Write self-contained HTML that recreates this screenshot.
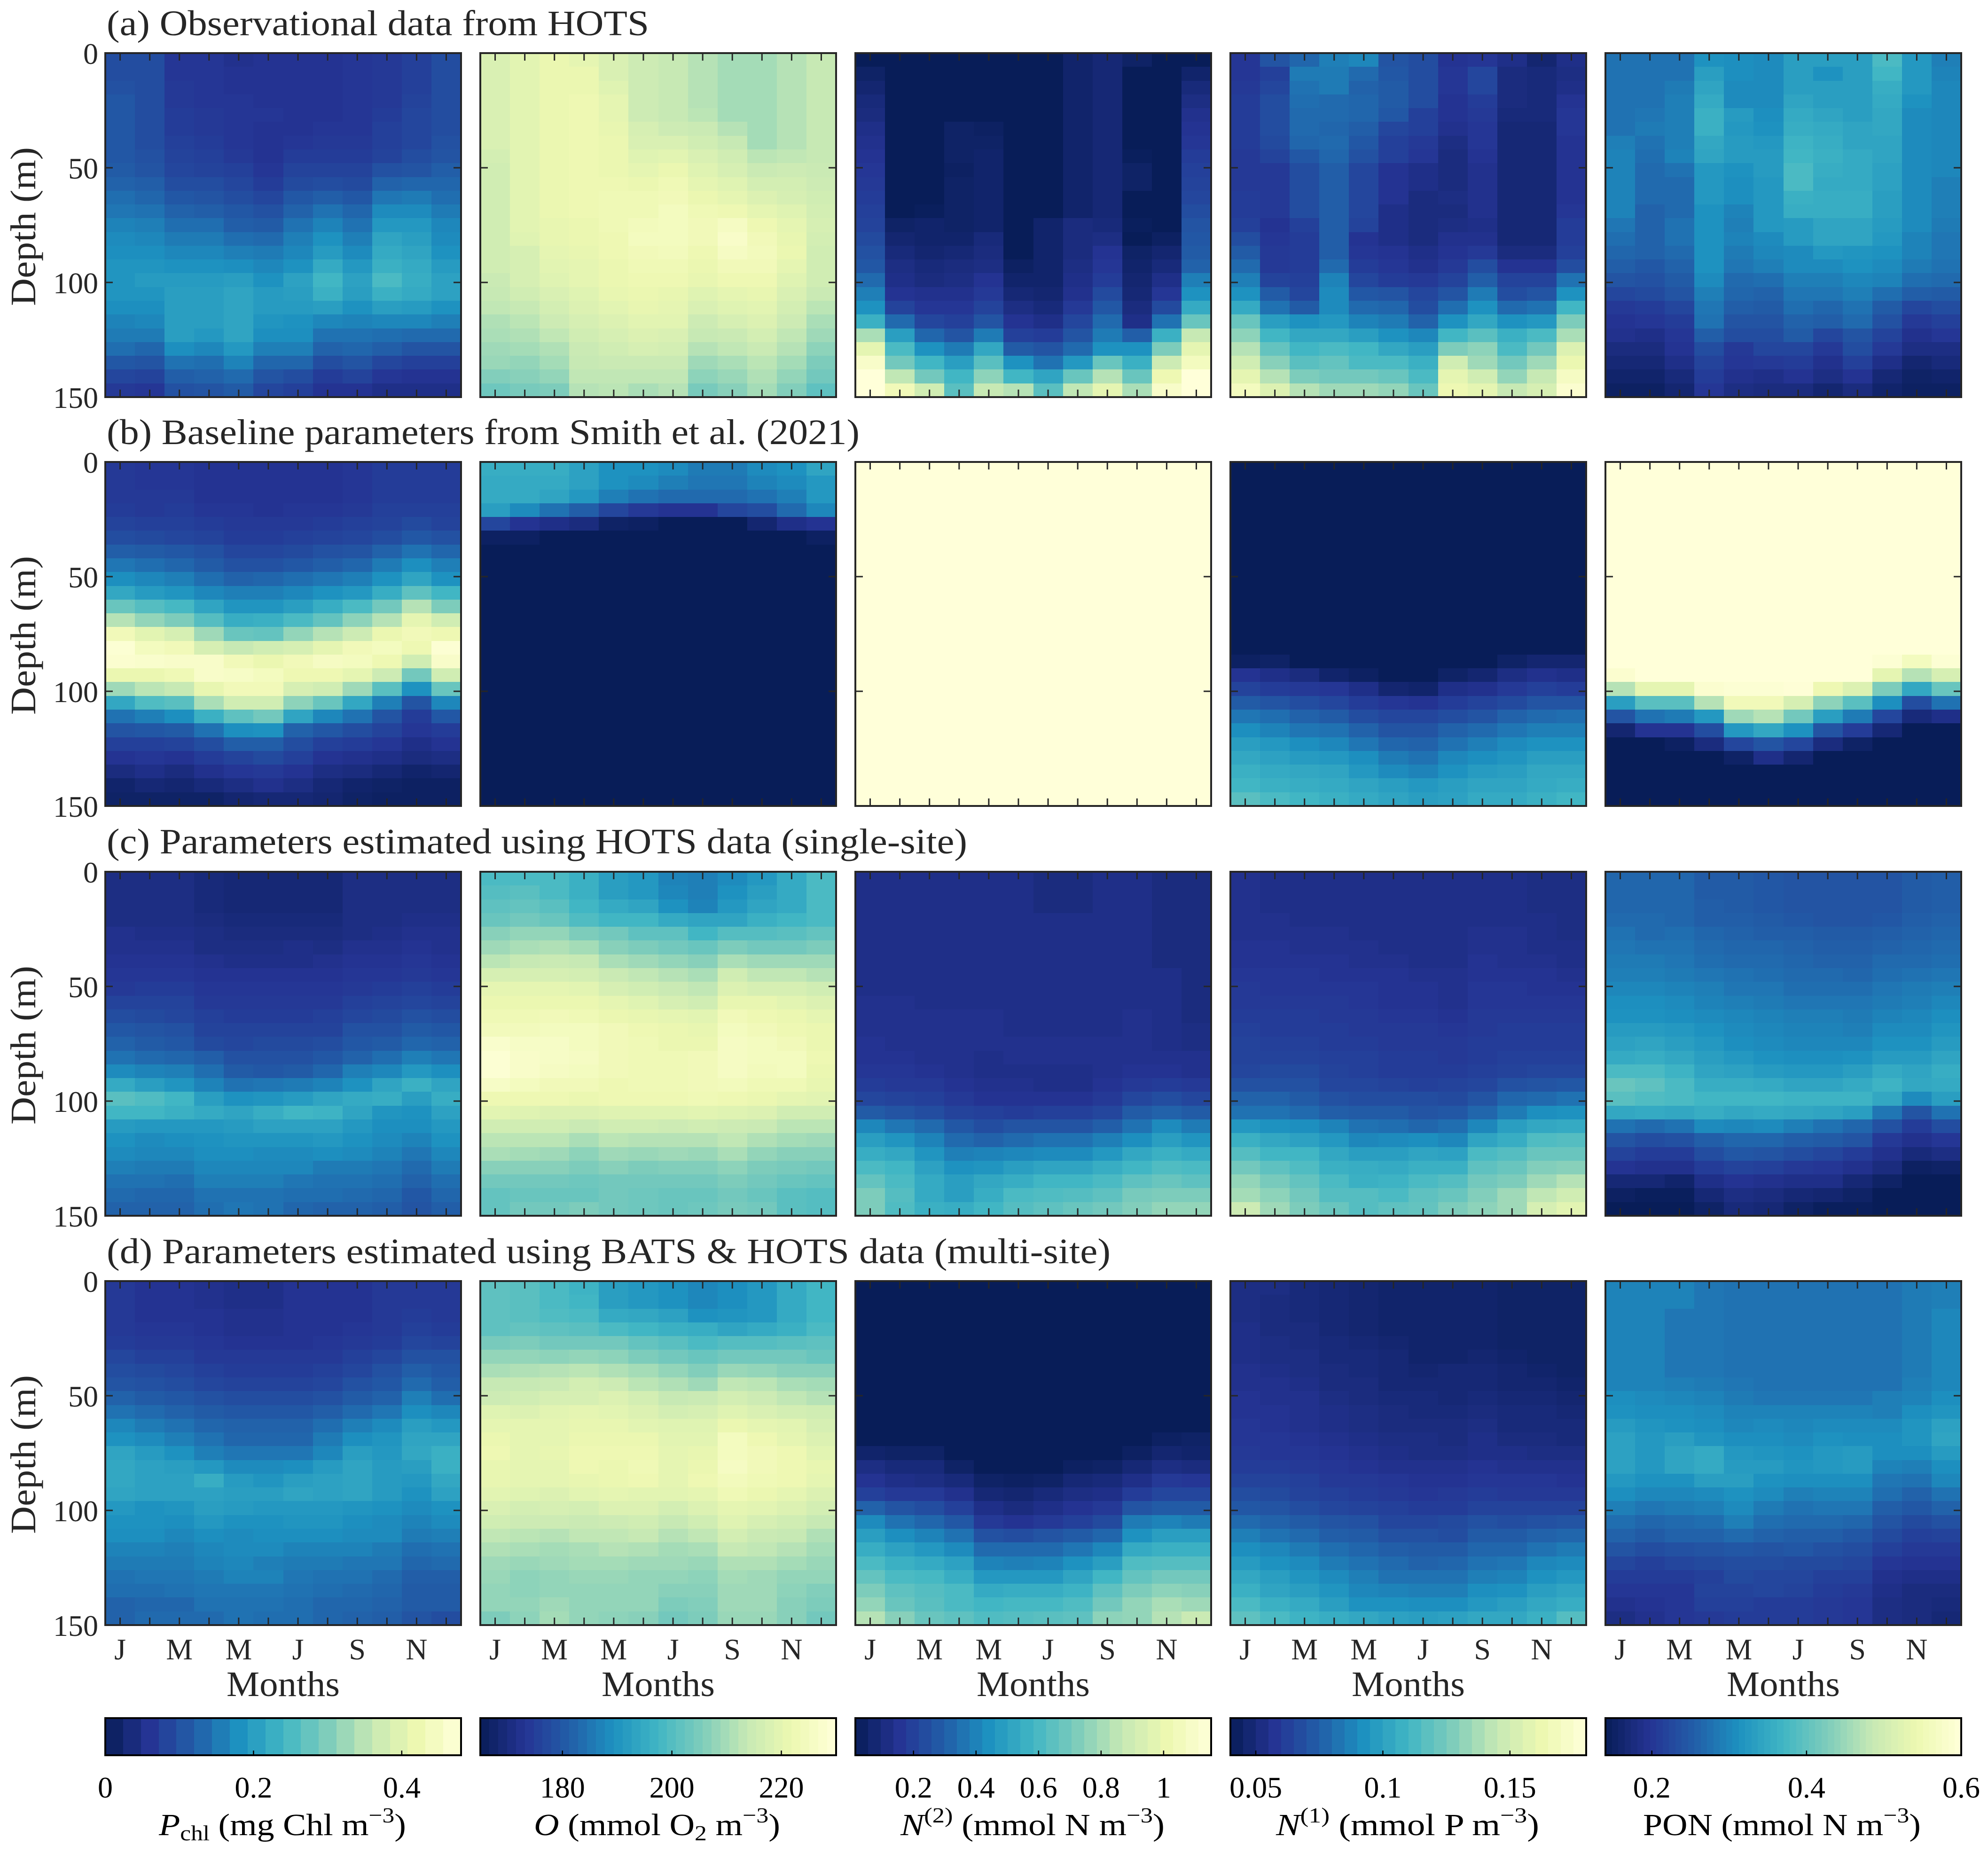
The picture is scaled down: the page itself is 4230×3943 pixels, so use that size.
<!DOCTYPE html>
<html lang="en">
<head>
<meta charset="utf-8">
<title>HOTS depth-month heatmaps</title>
<style>
html,body{margin:0;padding:0;background:#fff;}
svg{display:block;}
text{font-family:"Liberation Serif","Noto Serif CJK SC",serif;fill:#262626;}
.cbt{fill:#000;}
</style>
</head>
<body>
<svg id="chart" xmlns="http://www.w3.org/2000/svg" width="4230" height="3943" viewBox="0 0 4230 3943">
<rect x="0" y="0" width="4230" height="3943" fill="#fff"/>
<text x="227" y="75" font-size="76" textLength="1154" lengthAdjust="spacingAndGlyphs">(a) Observational data from HOTS</text>
<text x="227" y="945" font-size="76" textLength="1602" lengthAdjust="spacingAndGlyphs">(b) Baseline parameters from Smith et al. (2021)</text>
<text x="227" y="1816" font-size="76" textLength="1831" lengthAdjust="spacingAndGlyphs">(c) Parameters estimated using HOTS data (single-site)</text>
<text x="227" y="2688" font-size="76" textLength="2136" lengthAdjust="spacingAndGlyphs">(d) Parameters estimated using BATS &amp; HOTS data (multi-site)</text>
<g id="panels"></g>
<g id="colorbars"></g>
<text class="cbt" data-fit="337,527" x="0" y="3905" font-size="66"><tspan font-style="italic">P</tspan><tspan font-size="46" dy="11">chl</tspan><tspan dy="-11"> (mg Chl m</tspan><tspan font-size="46" dy="-27">−3</tspan><tspan dy="27">)</tspan></text>
<text class="cbt" data-fit="1136,524" x="0" y="3905" font-size="66"><tspan font-style="italic">O</tspan><tspan> (mmol O</tspan><tspan font-size="46" dy="11">2</tspan><tspan dy="-11"> m</tspan><tspan font-size="46" dy="-27">−3</tspan><tspan dy="27">)</tspan></text>
<text class="cbt" data-fit="1915,563" x="0" y="3905" font-size="66"><tspan font-style="italic">N</tspan><tspan font-size="46" dy="-27">(2)</tspan><tspan dy="27"> (mmol N m</tspan><tspan font-size="46" dy="-27">−3</tspan><tspan dy="27">)</tspan></text>
<text class="cbt" data-fit="2714,561" x="0" y="3905" font-size="66"><tspan font-style="italic">N</tspan><tspan font-size="46" dy="-27">(1)</tspan><tspan dy="27"> (mmol P m</tspan><tspan font-size="46" dy="-27">−3</tspan><tspan dy="27">)</tspan></text>
<text class="cbt" data-fit="3496,591" x="0" y="3905" font-size="66"><tspan>PON (mmol N m</tspan><tspan font-size="46" dy="-27">−3</tspan><tspan dy="27">)</tspan></text>
</svg>
<script>
// Each panel: 12 month columns; each column is a depth profile, top to bottom.
// Values are percent positions along that variable's colorbar range.
const monthTicks = ['J','M','M','J','S','N'];
const depthTicks = [0,50,100,150];
const cbMin = [0,165,0.014,0.04,0.14];
const cbMax = [0.48,230,1.152,0.18,0.6];
const cbTicks = [[0,0.2,0.4],[180,200,220],[0.2,0.4,0.6,0.8,1],[0.05,0.1,0.15],[0.2,0.4,0.6]];
const cbLevels = [20,40,28,28,56];

const a1 = [
[20,20,21,23,23,23,23,23,24,26,29,31,34,36,37,39,39,39,37,34,32,29,23,18,14],
[20,20,20,20,20,20,20,21,22,25,27,30,33,35,37,39,41,39,37,35,32,27,22,17,13],
[13,13,14,14,15,15,16,17,18,20,23,26,29,32,35,38,41,42,42,42,42,37,30,25,21],
[13,13,13,13,14,14,15,16,17,20,22,25,29,32,35,38,41,42,42,42,40,35,29,26,22],
[11,12,12,13,13,13,13,14,16,18,20,23,25,29,33,37,42,44,44,44,44,40,34,28,24],
[12,12,12,12,13,12,12,12,13,15,18,21,24,28,32,35,38,41,41,39,37,33,27,22,18],
[12,12,12,12,12,12,13,15,17,19,23,26,30,33,35,38,43,42,41,38,37,33,27,20,16],
[12,12,12,12,12,13,14,15,17,20,25,30,34,38,41,46,50,48,42,35,30,26,20,15,12],
[13,13,13,13,13,13,14,15,17,19,23,27,30,33,36,40,43,42,38,34,30,27,22,17,12],
[14,14,14,14,15,16,16,17,21,26,31,36,40,44,46,48,52,48,42,35,29,25,18,13,10],
[16,16,16,17,18,18,18,20,22,27,32,36,40,42,44,46,47,46,41,35,28,22,16,12,10],
[20,20,20,20,20,20,21,22,25,27,29,32,35,36,38,41,43,43,38,33,28,22,16,12,10]];
const a2 = [
[81,81,81,81,81,81,81,79,78,78,78,78,78,78,78,78,76,75,74,71,70,68,67,63,59],
[84,84,84,84,84,84,84,84,84,84,84,84,84,83,80,80,80,78,75,73,71,69,66,64,61],
[87,87,87,87,87,87,87,87,87,87,87,87,86,86,85,84,83,81,79,77,74,71,69,66,62],
[85,87,87,88,88,88,88,88,88,88,88,88,87,87,86,85,85,83,82,80,78,76,75,74,72],
[81,81,83,85,85,86,87,87,87,88,89,89,89,88,88,87,87,86,84,82,80,78,76,74,73],
[77,77,77,77,77,80,81,83,85,87,89,89,91,92,90,89,88,87,86,84,82,80,76,74,70],
[75,75,75,75,75,77,81,84,87,89,90,92,92,92,91,89,88,86,85,84,81,79,76,74,72],
[72,72,72,72,73,76,78,81,83,85,87,89,90,90,88,87,86,83,81,77,75,72,68,65,61],
[69,69,69,69,69,72,75,78,80,83,85,88,93,95,93,90,88,85,83,80,76,74,70,67,64],
[69,69,69,69,69,69,69,73,76,79,82,85,88,90,91,90,88,86,84,82,79,76,73,71,69],
[72,72,72,72,72,72,72,74,77,79,80,83,85,86,87,85,83,81,79,77,74,72,69,66,63],
[75,75,75,75,75,75,75,75,76,77,78,79,80,79,78,78,78,76,73,70,68,65,62,60,56]];
const a3 = [
[0,3,5,7,8,10,11,12,13,14,15,16,17,19,21,23,28,33,38,48,70,85,95,100,100],
[0,0,0,0,0,0,0,0,0,0,0,0,3,5,7,9,10,12,17,28,42,52,60,74,90],
[0,0,0,0,0,0,0,0,0,0,0,1,4,4,5,7,8,11,13,18,27,38,50,60,78],
[0,0,0,0,0,3,3,3,2,3,3,3,3,4,6,8,9,11,13,16,22,32,42,50,55],
[0,0,0,0,0,2,3,4,4,4,4,4,4,7,8,9,12,14,17,22,32,45,55,65,75],
[0,0,0,0,0,0,0,0,0,0,0,0,0,0,0,2,4,6,9,12,16,24,38,50,72],
[0,0,0,0,0,0,0,0,0,0,0,0,4,4,4,4,4,5,7,10,15,22,30,44,55],
[4,4,4,4,4,4,4,4,4,4,4,4,8,8,8,9,10,11,14,18,22,28,40,58,74],
[6,6,6,6,6,6,6,6,6,6,6,6,7,9,12,13,15,19,23,28,32,38,58,72,85],
[3,0,0,0,0,0,0,1,3,3,0,0,1,0,3,4,5,6,8,10,25,38,48,58,70],
[0,0,0,0,0,0,0,0,0,0,0,0,0,2,5,7,10,13,19,30,48,62,77,88,95],
[0,4,7,9,11,12,13,15,16,17,18,20,22,23,24,26,33,38,46,58,75,85,92,100,100]];
const a4 = [
[13,13,14,15,15,15,15,14,14,14,15,15,16,20,24,28,33,38,46,58,65,72,78,85,92],
[22,16,18,20,20,20,19,17,14,14,14,14,12,13,14,14,17,24,30,42,50,57,64,72,82],
[27,32,30,29,28,28,27,23,20,20,20,20,16,15,15,15,16,18,24,38,45,50,55,62,72],
[33,32,32,28,28,27,28,27,25,25,25,25,25,25,25,28,34,36,36,40,45,52,57,60,68],
[35,28,26,27,27,25,23,21,18,18,18,18,17,12,13,15,18,23,28,34,42,50,52,60,68],
[22,23,24,24,23,18,16,16,12,12,12,10,10,10,12,13,15,22,27,32,38,45,52,58,66],
[20,20,20,20,16,16,14,13,10,10,8,8,8,8,10,11,14,18,20,26,35,42,48,52,58],
[12,13,13,12,12,11,9,8,8,8,9,8,9,11,12,14,17,22,29,38,50,62,78,85,88],
[13,18,18,15,14,13,13,12,11,11,11,11,10,11,14,20,25,32,38,45,55,65,68,78,85],
[10,8,8,8,7,6,6,6,6,6,6,6,6,6,8,12,17,20,28,38,48,52,60,66,75],
[5,7,7,7,7,6,6,6,6,6,6,6,6,6,8,12,17,22,30,40,52,60,68,75,80],
[10,9,10,12,13,13,12,12,12,12,12,13,15,15,16,20,30,38,50,62,70,82,87,93,97]];
const a5 = [
[30,30,30,30,30,30,33,34,34,34,34,34,31,29,27,25,22,18,14,12,11,8,6,4,2],
[30,30,30,30,31,32,30,29,28,28,28,26,26,26,26,23,21,19,15,13,10,8,6,4,2],
[30,30,32,33,33,33,33,34,30,28,28,28,30,30,28,26,24,22,18,15,13,12,10,7,5],
[38,42,44,46,48,48,45,44,40,40,40,38,38,38,38,38,36,33,31,30,25,20,17,15,13],
[37,37,36,36,41,40,41,41,38,37,37,34,33,34,32,31,28,27,25,22,20,14,13,11,9],
[36,36,36,36,37,38,40,41,41,40,40,40,40,36,35,33,29,26,24,22,20,18,14,10,8],
[42,42,42,44,46,47,49,50,52,52,48,47,41,41,36,36,33,31,29,26,24,18,15,12,8],
[42,38,42,42,44,46,47,48,47,46,47,47,44,44,40,36,33,31,27,25,18,14,11,9,5],
[42,42,42,42,42,44,44,46,46,46,47,47,44,44,39,38,35,33,30,28,22,20,16,12,8],
[52,50,47,46,45,45,44,44,43,43,42,42,41,40,38,36,34,29,24,21,17,14,10,6,4],
[40,40,40,38,36,36,36,36,36,36,36,36,36,34,34,32,29,25,18,14,11,9,5,3,2],
[33,34,35,35,35,35,35,35,35,33,33,33,32,31,31,30,28,24,20,16,13,9,7,4,2]];

const b1 = [
[14,14,14,15,17,20,25,31,37,45,58,72,90,98,97,87,68,45,30,22,16,12,8,4,3],
[13,13,14,14,16,19,24,29,35,41,54,66,84,92,96,87,73,53,33,23,16,13,10,6,3],
[13,13,14,15,16,18,23,27,33,39,51,62,80,90,95,89,75,55,37,24,17,12,8,5,3],
[12,12,12,13,15,17,21,24,29,35,44,54,68,80,95,95,86,70,48,30,20,15,11,7,3],
[12,12,12,13,14,15,18,21,26,33,39,47,58,75,90,94,90,78,56,37,25,17,13,9,5],
[12,12,12,12,14,15,18,21,27,33,39,48,57,78,87,92,90,78,60,38,25,19,14,11,6],
[12,12,12,13,14,16,19,23,29,35,42,52,66,80,90,88,80,65,44,26,20,16,12,9,6],
[12,12,12,13,15,17,21,25,31,38,47,57,72,85,93,88,78,58,35,23,16,12,9,6,5],
[13,13,13,14,16,18,22,27,33,40,52,65,77,90,92,85,68,45,30,20,15,11,8,4,3],
[15,15,15,16,17,20,26,32,38,47,60,72,87,92,88,77,55,33,22,17,13,10,6,3,2],
[15,15,15,16,19,23,30,37,44,56,72,85,90,88,78,60,38,22,15,13,10,8,4,2,2],
[15,15,15,16,17,21,27,33,38,50,62,78,88,98,95,78,58,35,23,15,12,9,5,2,2]];
const b2 = [
[47,46,46,42,18,2,0,0,0,0,0,0,0,0,0,0,0,0,0,0,0,0,0,0,0],
[47,46,46,36,12,2,0,0,0,0,0,0,0,0,0,0,0,0,0,0,0,0,0,0,0],
[47,46,44,30,10,0,0,0,0,0,0,0,0,0,0,0,0,0,0,0,0,0,0,0,0],
[43,43,40,25,8,0,0,0,0,0,0,0,0,0,0,0,0,0,0,0,0,0,0,0,0],
[38,38,33,18,3,0,0,0,0,0,0,0,0,0,0,0,0,0,0,0,0,0,0,0,0],
[38,36,30,14,2,0,0,0,0,0,0,0,0,0,0,0,0,0,0,0,0,0,0,0,0],
[36,33,28,12,0,0,0,0,0,0,0,0,0,0,0,0,0,0,0,0,0,0,0,0,0],
[32,31,28,12,0,0,0,0,0,0,0,0,0,0,0,0,0,0,0,0,0,0,0,0,0],
[32,31,28,18,0,0,0,0,0,0,0,0,0,0,0,0,0,0,0,0,0,0,0,0,0],
[36,34,30,20,5,0,0,0,0,0,0,0,0,0,0,0,0,0,0,0,0,0,0,0,0],
[38,36,33,28,10,0,0,0,0,0,0,0,0,0,0,0,0,0,0,0,0,0,0,0,0],
[44,40,40,35,12,2,0,0,0,0,0,0,0,0,0,0,0,0,0,0,0,0,0,0,0]];
const b3 = [[100],[100],[100],[100],[100],[100],[100],[100],[100],[100],[100],[100]];
const b4 = [
[0,0,0,0,0,0,0,0,0,0,0,0,0,0,2,12,17,24,31,37,42,45,48,50,55],
[0,0,0,0,0,0,0,0,0,0,0,0,0,0,3,10,15,22,29,34,40,43,46,48,52],
[0,0,0,0,0,0,0,0,0,0,0,0,0,0,0,8,14,20,26,31,37,41,45,47,50],
[0,0,0,0,0,0,0,0,0,0,0,0,0,0,0,4,13,18,24,30,35,40,44,46,48],
[0,0,0,0,0,0,0,0,0,0,0,0,0,0,0,2,10,15,20,26,31,37,40,44,46],
[0,0,0,0,0,0,0,0,0,0,0,0,0,0,0,0,5,13,18,22,27,32,36,42,44],
[0,0,0,0,0,0,0,0,0,0,0,0,0,0,0,0,4,12,18,22,26,30,34,40,42],
[0,0,0,0,0,0,0,0,0,0,0,0,0,0,0,3,10,15,20,26,30,35,38,42,43],
[0,0,0,0,0,0,0,0,0,0,0,0,0,0,0,5,11,17,22,28,33,37,41,44,46],
[0,0,0,0,0,0,0,0,0,0,0,0,0,0,3,9,14,19,26,31,36,39,42,44,46],
[0,0,0,0,0,0,0,0,0,0,0,0,0,0,5,11,16,22,28,33,38,42,45,46,48],
[0,0,0,0,0,0,0,0,0,0,0,0,0,0,5,10,15,22,29,33,38,42,45,47,50]];
const b5 = [
[100,100,100,100,100,100,100,100,100,100,100,100,100,100,100,97,72,42,22,5,0,0,0,0,0],
[100,100,100,100,100,100,100,100,100,100,100,100,100,100,100,100,85,55,30,12,0,0,0,0,0],
[100,100,100,100,100,100,100,100,100,100,100,100,100,100,100,100,85,55,32,12,2,0,0,0,0],
[100,100,100,100,100,100,100,100,100,100,100,100,100,100,100,100,97,72,40,20,8,0,0,0,0],
[100,100,100,100,100,100,100,100,100,100,100,100,100,100,100,100,98,90,68,40,18,3,0,0,0],
[100,100,100,100,100,100,100,100,100,100,100,100,100,100,100,100,98,90,72,45,22,10,0,0,0],
[100,100,100,100,100,100,100,100,100,100,100,100,100,100,100,100,99,80,60,38,18,5,0,0,0],
[100,100,100,100,100,100,100,100,100,100,100,100,100,100,100,100,88,65,42,22,8,0,0,0,0],
[100,100,100,100,100,100,100,100,100,100,100,100,100,100,100,100,82,55,32,15,3,0,0,0,0],
[100,100,100,100,100,100,100,100,100,100,100,100,100,100,98,85,62,37,18,6,0,0,0,0,0],
[100,100,100,100,100,100,100,100,100,100,100,100,100,100,92,72,45,20,7,0,0,0,0,0,0],
[100,100,100,100,100,100,100,100,100,100,100,100,100,100,98,80,58,30,10,0,0,0,0,0,0]];

const c1 = [
[9,9,9,9,11,11,12,13,14,17,20,23,26,30,36,46,55,50,41,38,36,33,30,28,26],
[9,9,9,9,10,11,12,13,15,17,19,22,24,28,34,42,53,50,40,36,35,32,30,27,26],
[9,9,9,9,10,11,12,13,15,17,18,21,23,27,33,39,50,48,40,37,35,32,29,27,26],
[7,7,7,8,9,9,11,12,13,14,16,17,19,25,29,34,42,46,40,38,37,35,33,30,29],
[6,6,6,7,8,9,10,12,13,14,15,17,18,21,24,30,38,44,41,39,37,35,33,30,31],
[6,6,6,7,8,9,10,12,13,14,15,17,19,21,23,31,39,47,43,39,36,35,33,30,30],
[6,6,6,7,8,10,10,12,13,14,15,17,19,21,24,32,41,50,43,39,36,35,31,29,27],
[6,6,6,7,8,9,11,12,13,14,16,17,20,23,27,34,44,49,43,40,37,32,30,29,26],
[9,9,9,9,9,11,12,13,14,16,18,21,23,26,33,38,46,44,40,38,36,32,30,28,26],
[9,9,9,9,10,11,12,13,15,17,19,21,24,29,35,44,47,39,37,36,34,31,29,27,25],
[9,9,9,10,11,12,13,14,16,18,21,24,27,33,40,48,42,38,37,34,31,28,26,23,22],
[9,9,9,10,11,11,12,13,15,17,20,23,26,31,37,44,47,43,40,38,35,32,29,27,25]];
const c2 = [
[52,54,56,58,64,68,73,80,85,87,89,91,96,98,98,94,88,84,78,73,70,64,60,57,57],
[52,55,57,60,66,70,75,80,85,87,89,91,94,95,95,92,88,83,78,73,69,64,60,58,60],
[52,52,55,58,66,71,76,80,85,87,90,92,94,94,93,90,88,82,78,73,68,64,60,58,60],
[48,48,50,53,62,69,75,79,84,87,89,92,92,93,92,90,87,82,76,70,65,62,59,58,62],
[42,42,46,50,60,64,70,76,80,85,87,90,90,90,90,88,88,83,78,73,68,64,60,60,60],
[40,40,44,50,56,62,68,74,78,83,86,88,89,89,89,89,88,83,78,72,67,62,60,59,59],
[34,35,38,46,56,60,66,72,76,80,85,87,87,89,89,89,88,83,77,72,68,63,60,58,58],
[33,33,34,44,50,58,64,70,74,78,84,86,87,90,90,90,89,84,78,72,67,63,60,58,59],
[36,38,40,44,54,62,70,78,82,86,90,92,93,93,93,91,88,83,77,74,70,65,62,60,61],
[40,42,44,48,54,60,68,74,80,86,88,90,92,92,91,89,87,82,76,71,66,62,60,58,60],
[46,46,46,50,55,60,68,74,80,84,87,88,90,92,92,89,85,78,73,69,64,61,58,55,55],
[52,52,52,52,57,62,68,72,78,82,85,87,87,88,87,86,84,78,73,68,64,60,57,54,54]];
const c3 = [
[10,10,10,10,10,10,10,10,10,11,11,11,12,12,13,15,18,24,35,42,47,52,57,62,62],
[10,10,10,10,10,10,10,10,10,11,11,11,11,12,13,14,17,22,31,39,45,50,52,54,53],
[10,10,10,10,10,10,10,10,10,10,11,11,11,11,12,14,16,20,28,34,39,43,46,46,48],
[10,10,10,10,10,10,10,10,10,10,11,11,11,11,11,12,14,17,23,28,33,38,42,42,47],
[10,10,10,10,10,10,10,10,10,10,11,11,11,10,10,11,12,16,20,26,34,39,45,47,50],
[10,10,10,10,10,10,10,10,10,10,10,10,11,11,10,11,12,15,22,28,35,42,47,52,54],
[8,8,8,10,10,10,10,10,10,10,10,10,11,11,10,10,12,16,22,30,36,44,50,53,56],
[8,8,8,10,10,10,10,10,10,10,10,10,11,11,10,10,12,16,22,30,36,44,50,54,58],
[10,10,10,10,10,10,10,10,10,10,10,10,11,11,11,12,14,18,25,33,40,47,52,56,60],
[10,10,10,10,10,10,10,10,10,10,11,11,11,11,12,14,18,24,30,37,45,50,56,61,63],
[8,8,8,8,8,8,8,10,10,10,10,10,10,11,12,15,20,26,36,42,48,53,58,62,66],
[8,8,8,8,8,8,8,8,8,8,8,9,9,11,11,14,18,24,32,39,46,52,56,62,66]];
const c4 = [
[11,11,11,11,11,12,12,13,14,14,15,16,17,17,18,21,26,30,40,48,54,60,66,69,77],
[10,10,10,11,11,12,12,13,13,14,15,15,16,17,19,21,26,30,38,45,50,56,61,65,68],
[10,10,10,10,11,11,12,13,13,14,15,15,16,17,19,21,24,28,37,43,50,53,57,60,62],
[10,10,10,10,11,11,12,12,13,14,14,15,15,16,17,18,21,25,34,40,45,48,52,54,58],
[10,10,10,10,10,11,11,12,13,13,14,14,15,16,16,18,20,24,30,35,42,47,48,54,54],
[10,10,10,10,10,10,11,12,12,12,13,14,14,15,15,17,20,24,29,36,42,46,49,52,56],
[10,10,10,10,10,10,10,11,12,12,13,14,14,15,15,16,20,22,27,37,44,48,52,56,57],
[10,10,10,10,10,10,10,11,11,11,12,13,14,14,15,17,19,23,29,35,43,48,54,58,62],
[10,10,10,10,11,11,12,12,13,13,14,14,15,15,16,18,22,27,35,44,52,56,60,63,65],
[10,10,10,10,11,11,11,12,13,13,14,15,15,16,17,21,27,32,42,47,54,58,62,68,68],
[9,9,9,10,10,10,11,12,12,13,14,15,15,16,18,22,28,37,45,53,58,63,68,74,80],
[9,9,9,9,9,10,10,11,12,13,14,15,15,16,18,23,30,38,46,54,58,64,72,78,84]];
const c5 = [
[27,27,27,28,30,31,32,33,35,37,38,41,43,46,52,58,55,45,30,22,17,12,6,2,0],
[27,27,27,28,28,30,32,33,35,37,38,41,44,47,52,56,53,46,28,20,15,11,6,1,0],
[27,27,27,27,29,30,31,32,34,36,37,40,42,45,49,52,52,45,30,21,15,11,4,1,0],
[24,24,25,25,27,28,29,31,33,34,36,38,40,42,44,47,50,47,36,25,20,15,10,6,3],
[24,24,24,25,26,27,28,30,31,33,35,36,37,40,43,47,50,45,35,27,23,17,12,9,7],
[23,23,23,24,25,27,28,29,31,32,34,35,36,38,41,46,50,46,36,27,22,16,11,8,6],
[22,22,22,23,25,26,27,28,29,31,33,34,35,37,40,44,49,45,33,25,20,14,10,6,3],
[22,22,22,22,24,25,26,28,29,31,33,34,35,37,40,44,49,44,30,24,18,13,10,5,1],
[22,22,22,22,24,25,26,27,29,31,32,33,35,38,42,46,49,42,27,22,15,11,6,3,1],
[22,22,22,23,25,26,28,29,31,32,34,36,38,41,46,49,45,31,21,14,11,8,3,0,0],
[24,24,24,25,26,27,28,30,32,33,35,36,38,41,44,45,36,22,15,11,7,2,0,0,0],
[25,25,25,26,27,28,29,31,33,35,37,39,41,44,47,46,42,30,20,13,9,3,0,0,0]];

const d1 = [
[14,14,14,14,15,18,20,22,26,30,35,38,44,45,45,44,40,38,37,34,32,30,29,26,26],
[12,12,12,13,14,16,19,21,24,28,32,36,41,43,43,43,38,38,37,34,32,31,29,27,28],
[12,12,12,13,14,16,18,20,23,26,30,33,38,42,43,43,39,37,35,33,32,31,30,27,28],
[11,11,12,12,13,14,16,18,21,24,27,30,33,40,47,43,42,40,37,35,34,32,31,30,28],
[10,10,11,11,12,14,15,17,20,23,26,27,31,36,41,42,41,38,36,36,35,34,31,30,30],
[10,10,11,11,12,14,15,17,20,23,26,27,31,36,39,42,40,38,37,36,33,34,31,30,29],
[12,12,12,12,12,14,15,17,20,23,26,27,31,37,42,44,40,39,37,34,32,31,30,29,29],
[12,12,12,12,13,14,16,18,21,25,29,32,35,41,43,43,40,39,37,34,32,30,29,27,27],
[12,12,12,13,14,16,18,21,24,28,33,37,42,44,44,44,39,37,36,34,31,30,28,27,26],
[14,14,14,14,15,18,21,23,26,31,36,39,40,41,41,41,38,36,36,32,31,28,27,26,25],
[14,14,15,16,18,21,25,28,33,37,42,44,45,42,40,38,36,34,32,29,27,25,24,24,22],
[14,14,14,15,17,21,23,25,29,35,40,44,48,48,45,43,38,36,33,30,28,25,24,24,20]];
const d2 = [
[56,56,56,56,61,66,70,75,77,83,85,87,88,86,86,84,81,78,74,71,68,67,66,66,62],
[55,55,55,57,62,66,71,75,78,82,85,85,85,85,85,83,79,77,73,70,67,65,65,66,65],
[52,52,53,56,60,65,72,76,80,84,85,85,86,85,85,82,80,77,72,69,68,66,66,68,69],
[49,50,52,55,60,66,73,79,80,85,86,87,88,88,86,84,79,76,74,70,69,67,66,66,66],
[42,42,46,52,60,65,71,77,82,84,86,87,88,87,87,85,82,77,74,72,69,67,66,66,65],
[40,40,45,50,57,62,69,73,79,82,84,87,88,89,88,84,82,78,75,71,68,66,66,66,64],
[38,38,43,48,55,60,66,71,75,79,83,84,85,85,85,84,79,75,72,69,68,66,64,62,60],
[35,35,38,47,52,58,63,68,76,80,83,84,86,87,88,85,82,78,74,70,67,65,64,63,62],
[37,37,39,44,54,60,67,74,79,83,87,92,92,93,91,89,85,83,79,75,71,69,68,68,67],
[40,40,40,46,54,60,66,73,77,81,85,88,90,90,89,87,84,80,76,74,71,68,68,68,67],
[46,46,46,48,55,60,64,70,74,79,84,85,88,88,88,85,82,78,75,72,69,66,65,64,64],
[50,50,50,52,56,58,64,69,72,78,80,82,84,86,85,82,79,75,71,69,67,66,63,62,60]];
const d3 = [
[0,0,0,0,0,0,0,0,0,0,0,0,4,9,12,16,26,36,42,47,52,57,62,66,72],
[0,0,0,0,0,0,0,0,0,0,0,0,3,7,10,14,22,30,37,43,48,52,56,58,64],
[0,0,0,0,0,0,0,0,0,0,0,0,3,7,9,14,20,27,34,40,46,51,54,55,58],
[0,0,0,0,0,0,0,0,0,0,0,0,0,3,7,11,16,23,30,36,43,47,52,52,56],
[0,0,0,0,0,0,0,0,0,0,0,0,0,0,3,6,10,14,21,28,34,40,46,50,53],
[0,0,0,0,0,0,0,0,0,0,0,0,0,0,2,5,8,12,20,28,33,40,47,51,54],
[0,0,0,0,0,0,0,0,0,0,0,0,0,0,3,7,10,14,22,28,34,40,47,51,55],
[0,0,0,0,0,0,0,0,0,0,0,0,0,2,6,9,12,16,24,31,38,44,49,53,56],
[0,0,0,0,0,0,0,0,0,0,0,0,0,3,7,10,14,19,27,35,42,50,56,60,65],
[0,0,0,0,0,0,0,0,0,0,0,0,2,6,10,15,22,32,38,46,53,57,62,66,66],
[0,0,0,0,0,0,0,0,0,0,0,2,5,9,14,18,24,34,42,48,54,60,65,70,72],
[0,0,0,0,0,0,0,0,0,0,0,3,4,8,13,18,24,32,42,48,54,60,64,68,76]];
const d4 = [
[9,9,9,10,10,10,11,11,12,12,13,13,14,15,17,20,23,28,33,37,41,45,48,52,56],
[9,8,8,8,9,9,10,11,11,12,12,13,13,15,17,19,22,26,30,35,38,42,44,48,52],
[7,7,7,8,8,9,9,10,11,11,11,12,13,14,16,17,20,24,28,32,36,39,42,46,49],
[6,6,6,6,7,7,8,8,9,10,10,11,12,13,14,16,18,22,25,29,32,36,39,42,47],
[5,5,5,5,6,7,7,8,8,9,9,10,11,12,14,15,17,21,24,27,30,33,35,38,45],
[4,4,4,4,5,6,6,6,7,8,8,9,10,11,13,14,16,18,21,25,28,30,34,38,43],
[4,4,4,4,4,4,5,6,7,7,8,9,9,11,12,13,15,18,21,24,26,30,33,37,42],
[4,4,4,4,4,4,6,6,6,7,8,8,9,11,12,14,15,19,20,24,27,30,33,37,43],
[4,4,4,4,4,5,6,6,7,8,9,10,10,12,13,15,17,21,24,27,30,33,37,40,45],
[3,3,3,3,3,4,5,5,6,7,7,8,10,11,13,14,17,20,24,27,31,34,38,42,45],
[3,3,3,3,3,3,4,5,6,7,7,8,9,11,13,14,17,21,26,30,35,38,42,45,48],
[3,3,3,3,3,3,3,4,5,6,7,7,9,11,12,14,17,22,27,32,36,40,44,47,54]];
const d5 = [
[34,34,34,34,34,34,34,34,37,38,41,43,43,43,40,37,33,29,26,22,18,15,13,11,9],
[34,34,34,34,34,34,34,34,36,37,39,40,40,40,38,35,31,27,24,20,16,15,13,12,11],
[34,34,31,31,31,31,31,33,35,37,38,42,44,44,38,35,32,28,26,21,18,15,13,13,13],
[31,31,31,31,31,31,31,32,34,36,37,39,46,46,42,36,33,29,26,22,19,16,17,16,14],
[30,30,30,30,30,30,30,31,32,34,35,37,40,41,42,38,36,33,28,23,20,19,17,16,15],
[30,30,30,30,30,30,30,30,31,34,36,37,39,41,38,36,32,29,26,22,20,18,18,15,15],
[30,30,30,30,30,30,30,30,31,34,35,36,38,39,37,33,30,28,25,23,19,18,17,15,15],
[30,30,30,30,30,30,30,30,31,34,36,38,40,40,37,34,31,28,25,21,19,16,15,14,14],
[30,30,30,30,30,30,30,30,31,34,36,37,41,41,37,34,31,27,23,20,18,16,14,13,13],
[30,30,30,30,30,30,30,30,33,33,36,37,37,34,31,29,25,22,19,16,13,11,10,9,9],
[32,32,32,32,32,32,32,33,34,37,39,39,37,33,30,26,23,19,16,14,12,10,8,8,8],
[33,33,35,35,35,35,35,35,37,39,43,44,41,37,35,30,26,21,17,14,12,10,8,7,6]];

const panelGrid = [[a1,a2,a3,a4,a5],[b1,b2,b3,b4,b5],[c1,c2,c3,c4,c5],[d1,d2,d3,d4,d5]];
const columnLefts = [224,1022,1820,2618,3416];
const rowTops = [113,983,1855,2726];
const panelW = 757, panelH = 732, maxDepth = 150, monthCount = 12;
const cbTop = 3656, cbH = 79;
const rampStops = ['#081d58','#253494','#225ea8','#1d91c0','#41b6c4','#7fcdbb','#c7e9b4','#edf8b1','#ffffd9'];
const NS = 'http://www.w3.org/2000/svg';

function hexToRgb(h){return [parseInt(h.substr(1,2),16),parseInt(h.substr(3,2),16),parseInt(h.substr(5,2),16)];}
function colorScale(pct){
  const f = Math.max(0,Math.min(1,pct/100))*(rampStops.length-1);
  const i = Math.min(rampStops.length-2,Math.floor(f));
  const a = hexToRgb(rampStops[i]), b = hexToRgb(rampStops[i+1]), m = f-i;
  return 'rgb('+Math.round(a[0]+(b[0]-a[0])*m)+','+Math.round(a[1]+(b[1]-a[1])*m)+','+Math.round(a[2]+(b[2]-a[2])*m)+')';
}
function xScale(left,month){return left+month*panelW/monthCount;}
function yScale(top,depth){return top+depth*panelH/maxDepth;}
function cbScale(i,v){return columnLefts[i]+(v-cbMin[i])/(cbMax[i]-cbMin[i])*panelW;}
function mk(tag,attrs,parent,txt){
  const el = document.createElementNS(NS,tag);
  for(const k in attrs){el.setAttribute(k,attrs[k]);}
  if(txt!==undefined){el.textContent=txt;}
  parent.appendChild(el);
  return el;
}
const panelsRoot = document.getElementById('panels');
const cbRoot = document.getElementById('colorbars');
const INK = '#262626';

panelGrid.forEach(function(rowPanels,r){
  const top = rowTops[r];
  rowPanels.forEach(function(data,c){
    const left = columnLefts[c];
    const g = mk('g',{},panelsRoot);
    
    
    data.forEach(function(profile,m){
      const step = maxDepth/profile.length;
      profile.forEach(function(v,k){
        const y0 = Math.round(yScale(top,k*step));
        const y1 = Math.round(yScale(top,(k+1)*step));
        const x0 = Math.round(xScale(left,m));
        const x1 = Math.round(xScale(left,m+1));
        const cell = mk('rect',{x:x0,y:y0,width:x1-x0,height:y1-y0,fill:colorScale(v),'shape-rendering':'crispEdges'},g);
        
        
      });
    });
    for(let m=0;m<monthCount;m++){
      const tx = xScale(left,m+0.5);
      const t1 = mk('line',{x1:tx,x2:tx,y1:top,y2:top+16,stroke:INK,'stroke-width':3},g);
      
      
      const t2 = mk('line',{x1:tx,x2:tx,y1:top+panelH,y2:top+panelH-16,stroke:INK,'stroke-width':3},g);
      
      
    }
    depthTicks.forEach(function(d){
      const ty = yScale(top,d);
      const t3 = mk('line',{x1:left,x2:left+16,y1:ty,y2:ty,stroke:INK,'stroke-width':3},g);
      
      
      const t4 = mk('line',{x1:left+panelW,x2:left+panelW-16,y1:ty,y2:ty,stroke:INK,'stroke-width':3},g);
      
      
      if(c===0){
        const lab = mk('text',{x:left-15,y:ty+23,'font-size':64,'text-anchor':'end'},g,String(d));
        
        
      }
    });
    const frame = mk('rect',{x:left,y:top,width:panelW,height:panelH,fill:'none',stroke:INK,'stroke-width':4},g);
    
    
    if(c===0){
      const yl = mk('text',{transform:'translate(75,'+(top+538)+') rotate(-90)','font-size':76,textLength:338,lengthAdjust:'spacingAndGlyphs'},g,'Depth (m)');
      
      
    }
    if(r===panelGrid.length-1){
      monthTicks.forEach(function(name,i){
        const ml = mk('text',{x:xScale(left,2*i+0.5),y:3531,'font-size':64,'text-anchor':'middle'},g,name);
        
        
      });
      const xt = mk('text',{x:left+panelW/2-120.5,y:3609,'font-size':76,textLength:241,lengthAdjust:'spacingAndGlyphs'},g,'Months');
      
      
    }
  });
});

columnLefts.forEach(function(left,i){
  const g = mk('g',{},cbRoot);
  
  
  const n = cbLevels[i];
  for(let k=0;k<n;k++){
    const x0 = Math.round(left+k*panelW/n);
    const x1 = Math.round(left+(k+1)*panelW/n);
    const seg = mk('rect',{x:x0,y:cbTop,width:x1-x0,height:cbH,fill:colorScale((k+0.5)/n*100),'shape-rendering':'crispEdges'},g);
    
    
  }
  cbTicks[i].forEach(function(v){
    const tx = cbScale(i,v);
    const tk = mk('line',{x1:tx,x2:tx,y1:cbTop+cbH,y2:cbTop+cbH-10,stroke:'#000','stroke-width':2.5},g);
    
    
    const lb = mk('text',{x:tx,y:3825,'font-size':64,'text-anchor':'middle','class':'cbt'},g,String(v));
    
    
  });
  const fr = mk('rect',{x:left,y:cbTop,width:panelW,height:cbH,fill:'none',stroke:'#000','stroke-width':4},g);
  
  
});

document.querySelectorAll('[data-fit]').forEach(function(el){
  const parts = el.getAttribute('data-fit').split(',').map(Number);
  const box = el.getBBox();
  const sx = parts[1]/box.width;
  el.setAttribute('transform','translate('+parts[0]+',0) scale('+sx+',1) translate('+(-box.x)+',0)');
});
</script>
</body>
</html>
